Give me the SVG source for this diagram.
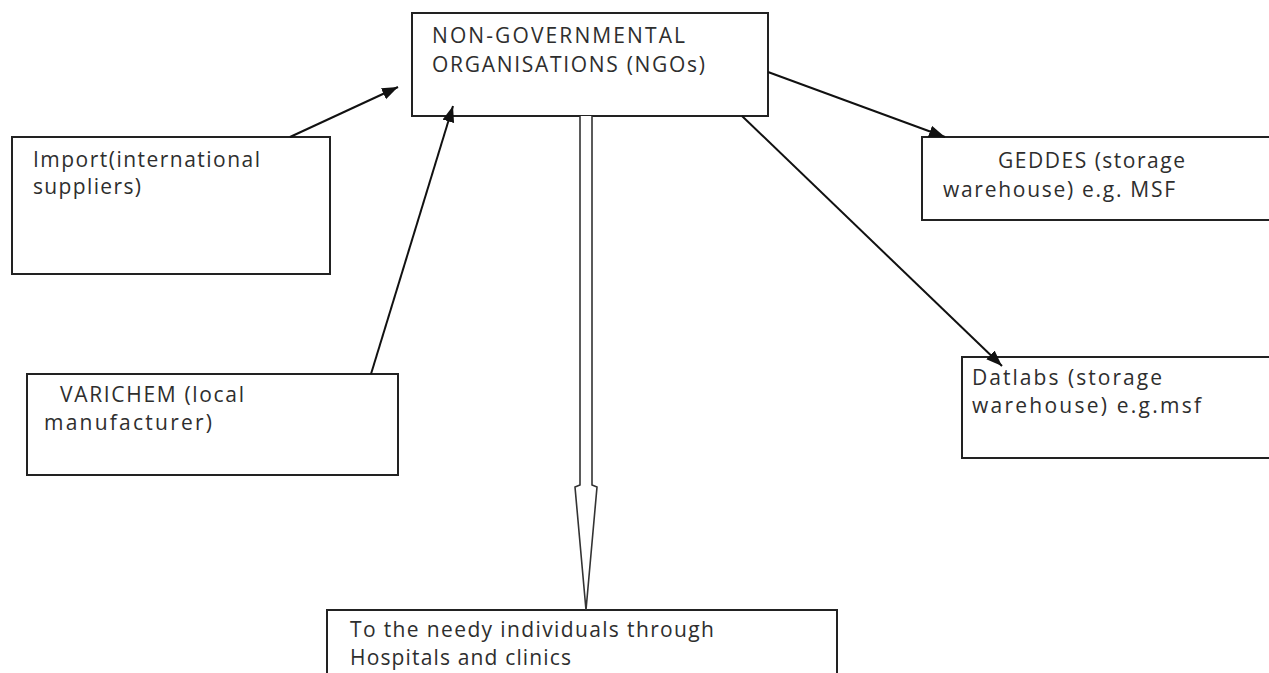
<svg xmlns="http://www.w3.org/2000/svg" width="1269" height="673" viewBox="0 0 1269 673">
  <defs>
    <marker id="arrow" markerUnits="userSpaceOnUse" markerWidth="18" markerHeight="14" refX="16" refY="6" orient="auto">
      <path d="M0,0 L16,6 L0,12 Z" fill="#111"/>
    </marker>
    <style>
      .box { fill: #ffffff; stroke: #222; stroke-width: 2; }
      .lbl { font-family: "Open Sans", "Liberation Sans", sans-serif; font-size: 21px; fill: #2e2e2e; }
      .conn { stroke: #111; stroke-width: 2; fill: none; }
    </style>
  </defs>
  <rect width="1269" height="673" fill="#ffffff"/>

  <g id="node-ngo">
    <rect class="box" x="412" y="13" width="356" height="103"/>
    <text class="lbl" x="432" y="43" textLength="253" lengthAdjust="spacing">NON-GOVERNMENTAL</text>
    <text class="lbl" x="432" y="72" textLength="273" lengthAdjust="spacing">ORGANISATIONS (NGOs)</text>
  </g>

  <g id="node-import">
    <rect class="box" x="12" y="137" width="318" height="137"/>
    <text class="lbl" x="33" y="167" textLength="227" lengthAdjust="spacing">Import(international</text>
    <text class="lbl" x="33" y="194" textLength="108" lengthAdjust="spacing">suppliers)</text>
  </g>

  <g id="node-varichem">
    <rect class="box" x="27" y="374" width="371" height="101"/>
    <text class="lbl" x="60" y="402" textLength="184" lengthAdjust="spacing">VARICHEM (local</text>
    <text class="lbl" x="44" y="430" textLength="168" lengthAdjust="spacing">manufacturer)</text>
  </g>

  <g id="node-geddes">
    <rect class="box" x="922" y="137" width="360" height="83"/>
    <text class="lbl" x="998" y="168" textLength="187" lengthAdjust="spacing">GEDDES (storage</text>
    <text class="lbl" x="943" y="197" textLength="232" lengthAdjust="spacing">warehouse) e.g. MSF</text>
  </g>

  <g id="node-datlabs">
    <rect class="box" x="962" y="357" width="320" height="101"/>
    <text class="lbl" x="972" y="385" textLength="190" lengthAdjust="spacing">Datlabs (storage</text>
    <text class="lbl" x="972" y="413" textLength="229" lengthAdjust="spacing">warehouse) e.g.msf</text>
  </g>

  <g id="node-needy">
    <rect class="box" x="327" y="610" width="510" height="90"/>
    <text class="lbl" x="350" y="637" textLength="364" lengthAdjust="spacing">To the needy individuals through</text>
    <text class="lbl" x="350" y="665" textLength="221" lengthAdjust="spacing">Hospitals and clinics</text>
  </g>

  <g id="connectors">
    <line class="conn" x1="290" y1="137" x2="398" y2="87" marker-end="url(#arrow)"/>
    <line class="conn" x1="371" y1="374" x2="453" y2="106" marker-end="url(#arrow)"/>
    <line class="conn" x1="768" y1="72" x2="945" y2="137" marker-end="url(#arrow)"/>
    <line class="conn" x1="742" y1="116" x2="1002" y2="366" marker-end="url(#arrow)"/>
    <path d="M580,116 L580,485 L575,487 L586,610 L597,487 L592,485 L592,116" fill="#ffffff" stroke="#333" stroke-width="1.6" stroke-linejoin="miter"/>
  </g>
</svg>
